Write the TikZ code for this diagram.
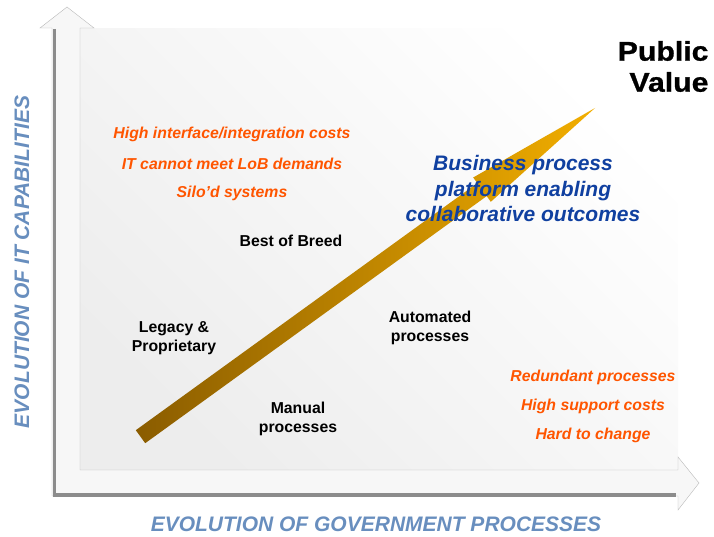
\documentclass[tikz,border=0pt]{standalone}
\usepackage{fontspec}
\setmainfont{Liberation Sans}
\newfontfamily\widefont[FakeStretch=1.12, FakeBold=1]{Liberation Sans}
\definecolor{issueorange}{RGB}{255,85,0}
\definecolor{goalblue}{RGB}{16,64,160}
\definecolor{axisblue}{RGB}{104,142,190}
\definecolor{arrowdark}{RGB}{138,92,0}
\definecolor{arrowlight}{RGB}{242,174,0}

\begin{document}
\begin{tikzpicture}[x=1pt, y=-1pt,
        issue/.style={text=issueorange, font=\fontsize{15.8}{19}\selectfont\bfseries\itshape},
        stage/.style={align=center, font=\fontsize{15.8}{19}\selectfont\bfseries},
        goal/.style={align=center, text=goalblue, font=\fontsize{21}{25.5}\selectfont\bfseries\itshape},
        axislabel/.style={text=axisblue, font=\fontsize{21}{25}\selectfont\bfseries\itshape}]
        \useasboundingbox (0,0) rectangle (714,537);

        % panel behind the chart
        \shade [top color=white, bottom color=gray!14, shading angle=-45] (80,29) rectangle (678,470);

        % axes
        \draw [gray!55, fill=gray!6] (52,496) -- (52,28) -- (40,28) -- (67,7) -- (94,28) -- (80,28) -- (80,470)
            -- (678,470) -- (678,457) -- (699,483) -- (678,510) -- (678,496) -- cycle;
        \draw [line width=3.4, gray!90] (54.3,29) -- (54.3,495) -- (676,495);

        % rising arrow
        \shade [left color=arrowdark, right color=arrowlight] (135.8,430.2) -- (477.3,183.1) -- (473.2,177.5) -- (595,108)
            -- (490.8,201.8) -- (486.7,196.1) -- (145.2,443.2) -- cycle;

        \foreach \txt [count=\i] in {High interface/integration costs, IT cannot meet LoB demands, Silo’d systems}
        {
            \node [issue] (cost\i) at (232, 104.5+29.5*\i) {\txt};
        }
        \foreach \txt [count=\i] in {Redundant processes, High support costs, Hard to change}
        {
            \node [issue] (burden\i) at (593, 348+29*\i) {\txt};
        }

        \node [stage] (breed) at (291,241) {Best of Breed};
        \node [stage] (legacy) at (174,338) {Legacy \&\\Proprietary};
        \node [stage] (automated) at (430,327.5) {Automated\\processes};
        \node [stage] (manual) at (298,418.5) {Manual\\processes};

        \node [goal] (platform) at (523,188.5) {Business process\\platform enabling\\collaborative outcomes};

        \node [anchor=east, align=right, font=\widefont\bfseries\fontsize{27}{31}\selectfont] (value) at (712,66.5) {Public\\Value};

        \node [axislabel] (xlabel) at (376,524) {EVOLUTION OF GOVERNMENT PROCESSES};
        \node [axislabel, rotate=90] (ylabel) at (22,262) {EVOLUTION OF IT CAPABILITIES};
    \end{tikzpicture}
\end{document}
